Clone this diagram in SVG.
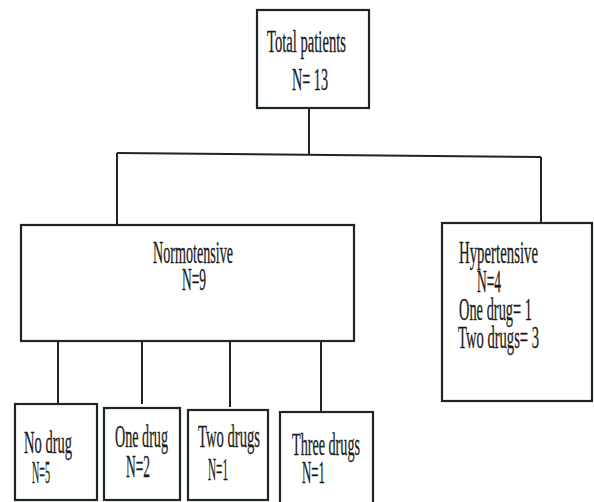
<svg xmlns="http://www.w3.org/2000/svg" width="594" height="502" viewBox="0 0 594 502">
<style>
.box{fill:#fff;stroke:#1c2626;stroke-width:2.2}
.ln{stroke:#1c2626;stroke-width:2;fill:none}
text{font-family:"Liberation Serif","Times New Roman",serif;font-size:31px;fill:#1a1a1a;stroke:#1a1a1a;stroke-width:0.3}
</style>
<rect width="594" height="502" fill="#fff"/>
<g id="connectors">
<line class="ln" x1="309" y1="108" x2="309" y2="155"/>
<line class="ln" x1="117" y1="153" x2="541" y2="157"/>
<line class="ln" x1="117" y1="153" x2="117" y2="225"/>
<line class="ln" x1="541" y1="157" x2="541" y2="223"/>
<line class="ln" x1="58" y1="341" x2="58" y2="404"/>
<line class="ln" x1="142" y1="341" x2="142" y2="404"/>
<line class="ln" x1="230" y1="341" x2="230" y2="407"/>
<line class="ln" x1="321" y1="341" x2="321" y2="412"/>
</g>
<g id="total">
<rect class="box" x="257" y="10" width="112" height="98"/>
<text x="267" y="52" textLength="79" lengthAdjust="spacingAndGlyphs">Total patients</text>
<text x="292" y="90" textLength="36" lengthAdjust="spacingAndGlyphs">N= 13</text>
</g>
<g id="normotensive">
<rect class="box" x="21" y="225" width="333" height="116"/>
<text x="153" y="263" textLength="80" lengthAdjust="spacingAndGlyphs">Normotensive</text>
<text x="182" y="290" textLength="24" lengthAdjust="spacingAndGlyphs">N=9</text>
</g>
<g id="hypertensive">
<rect class="box" x="442" y="223" width="150" height="178"/>
<text x="459" y="263" textLength="79" lengthAdjust="spacingAndGlyphs">Hypertensive</text>
<text x="477" y="292" textLength="24" lengthAdjust="spacingAndGlyphs">N=4</text>
<text x="459" y="320" textLength="73" lengthAdjust="spacingAndGlyphs">One drug= 1</text>
<text x="458" y="348" textLength="81" lengthAdjust="spacingAndGlyphs">Two drugs= 3</text>
</g>
<g id="nodrug">
<rect class="box" x="15" y="404" width="82" height="96"/>
<text x="24" y="453" textLength="48" lengthAdjust="spacingAndGlyphs">No drug</text>
<text x="32" y="483" textLength="18" lengthAdjust="spacingAndGlyphs">N=5</text>
</g>
<g id="onedrug">
<rect class="box" x="104" y="408" width="76" height="92"/>
<text x="115" y="447" textLength="53" lengthAdjust="spacingAndGlyphs">One drug</text>
<text x="126" y="477" textLength="24" lengthAdjust="spacingAndGlyphs">N=2</text>
</g>
<g id="twodrugs">
<rect class="box" x="188" y="410" width="80" height="90"/>
<text x="198" y="447" textLength="62" lengthAdjust="spacingAndGlyphs">Two drugs</text>
<text x="208" y="480" textLength="20" lengthAdjust="spacingAndGlyphs">N=1</text>
</g>
<g id="threedrugs">
<rect class="box" x="280" y="412" width="93" height="92"/>
<text x="292" y="455" textLength="68" lengthAdjust="spacingAndGlyphs">Three drugs</text>
<text x="302" y="483" textLength="23" lengthAdjust="spacingAndGlyphs">N=1</text>
</g>
</svg>
